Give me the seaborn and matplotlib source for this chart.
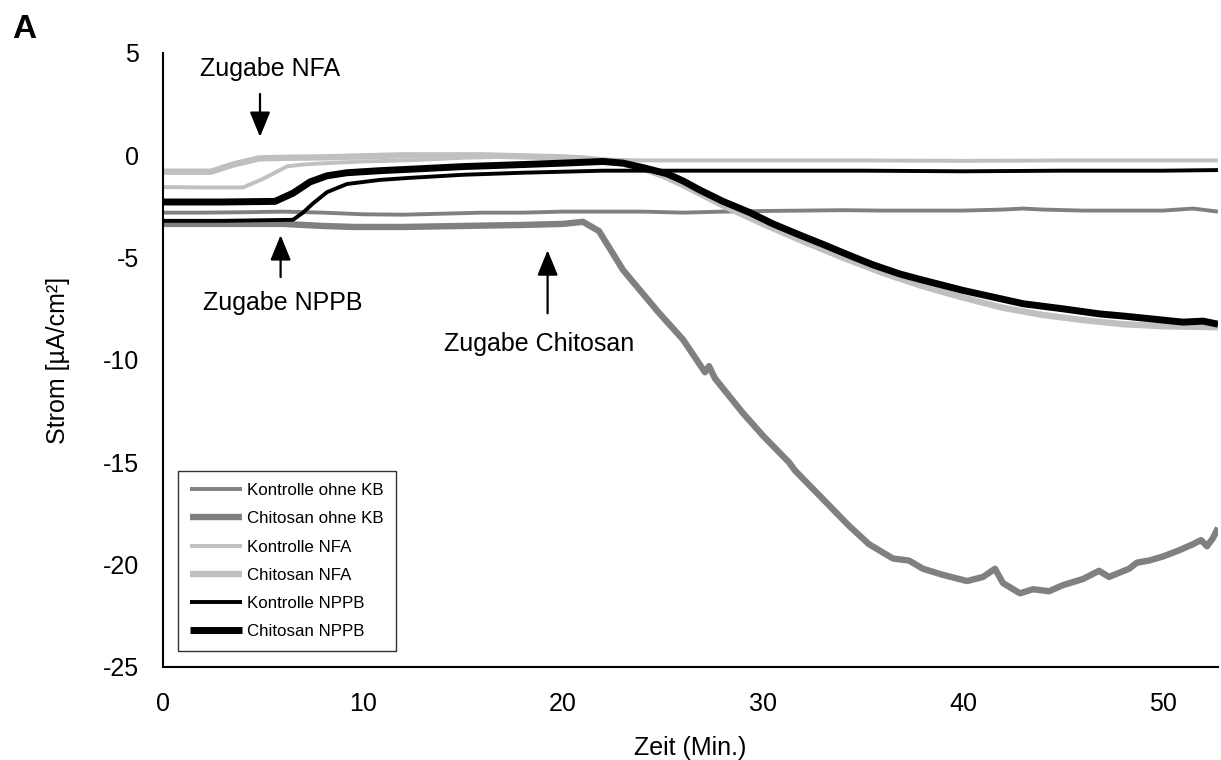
import matplotlib
matplotlib.use("Agg")
import matplotlib.pyplot as plt
import seaborn as sns
import pandas as pd

# ---------------- data ----------------
t_kontrolle_ohne = [0, 2, 4, 6, 8, 10, 12, 14, 16, 18, 20, 22, 24, 26, 28, 30, 32, 34, 36, 38, 40, 42, 43, 44, 46, 48, 50, 51.5, 52.75]
v_kontrolle_ohne = [-2.8, -2.8, -2.78, -2.75, -2.8, -2.88, -2.9, -2.85, -2.8, -2.8, -2.75, -2.75, -2.75, -2.8, -2.75, -2.72, -2.7, -2.68, -2.7, -2.7, -2.7, -2.65, -2.6, -2.65, -2.7, -2.7, -2.7, -2.6, -2.75]

t_chitosan_ohne = [0, 3, 6, 8, 9.5, 12, 15, 18, 20, 21, 21.8, 23, 24.8, 26, 27.1, 27.3, 27.6, 29, 30, 31.3, 31.6, 32.7, 34.3, 35.3, 36.5, 37.3, 38, 39, 40.2, 41, 41.6, 42, 42.85, 43.5, 44.3, 45, 46, 46.8, 47.3, 48.3, 48.7, 49.3, 50, 50.8, 51.5, 51.9, 52.2, 52.5, 52.75]
v_chitosan_ohne = [-3.35, -3.35, -3.35, -3.45, -3.5, -3.5, -3.45, -3.4, -3.35, -3.25, -3.7, -5.6, -7.7, -9.0, -10.6, -10.3, -10.9, -12.6, -13.7, -15.0, -15.4, -16.5, -18.1, -19.0, -19.7, -19.8, -20.2, -20.5, -20.8, -20.6, -20.2, -20.9, -21.4, -21.2, -21.3, -21.0, -20.7, -20.3, -20.6, -20.2, -19.9, -19.8, -19.6, -19.3, -19.0, -18.8, -19.1, -18.7, -18.2]

t_kontrolle_nfa = [0, 2, 4, 5, 6.2, 7, 8.2, 10, 12.35, 15, 18, 20, 22, 24, 26, 30, 35, 40, 45, 50, 52.75]
v_kontrolle_nfa = [-1.55, -1.57, -1.57, -1.15, -0.54, -0.45, -0.38, -0.3, -0.24, -0.12, -0.05, -0.1, -0.2, -0.25, -0.25, -0.25, -0.25, -0.27, -0.25, -0.25, -0.25]

t_chitosan_nfa = [0, 2.4, 3.5, 4.8, 6, 8, 10, 12, 14, 16, 18, 20, 21, 22, 23, 24, 25, 26, 27, 28, 30, 32, 34, 36, 38, 40, 42, 44, 46, 48, 50, 52.75]
v_chitosan_nfa = [-0.8, -0.8, -0.45, -0.15, -0.12, -0.1, -0.05, 0.0, 0.0, 0.0, -0.05, -0.1, -0.15, -0.25, -0.4, -0.65, -1.0, -1.45, -1.95, -2.45, -3.35, -4.2, -5.0, -5.75, -6.4, -6.95, -7.45, -7.8, -8.05, -8.25, -8.35, -8.4]

t_kontrolle_nppb = [0, 3, 6.5, 7.0, 7.5, 8.2, 9.2, 10.85, 12.35, 15, 18, 20, 22, 25, 30, 35, 40, 45, 50, 52.75]
v_kontrolle_nppb = [-3.2, -3.2, -3.15, -2.8, -2.35, -1.8, -1.4, -1.2, -1.1, -0.95, -0.85, -0.8, -0.75, -0.75, -0.75, -0.75, -0.78, -0.75, -0.75, -0.72]

t_chitosan_nppb = [0, 3, 5.6, 6.5, 7.35, 8.2, 9.2, 10.85, 12.35, 15, 18, 20, 22, 23, 24, 25.2, 26, 26.85, 28, 29.35, 30.5, 31.85, 33, 34.35, 35.5, 36.85, 38, 40, 41.85, 43, 45, 46.85, 48, 50, 51, 52, 52.75]
v_chitosan_nppb = [-2.28, -2.28, -2.25, -1.85, -1.3, -1.0, -0.85, -0.75, -0.68, -0.55, -0.45, -0.38, -0.3, -0.38, -0.6, -0.9, -1.25, -1.7, -2.25, -2.8, -3.35, -3.9, -4.35, -4.9, -5.35, -5.8, -6.1, -6.6, -7.0, -7.25, -7.5, -7.75, -7.85, -8.05, -8.15, -8.1, -8.25]

series_names = ["Kontrolle ohne KB", "Chitosan ohne KB", "Kontrolle NFA",
                "Chitosan NFA", "Kontrolle NPPB", "Chitosan NPPB"]
series_t = [t_kontrolle_ohne, t_chitosan_ohne, t_kontrolle_nfa,
            t_chitosan_nfa, t_kontrolle_nppb, t_chitosan_nppb]
series_v = [v_kontrolle_ohne, v_chitosan_ohne, v_kontrolle_nfa,
            v_chitosan_nfa, v_kontrolle_nppb, v_chitosan_nppb]
series_colors = ["#808080", "#808080", "#c0c0c0", "#c0c0c0", "#000000", "#000000"]
series_widths = [2.8, 4.6, 2.8, 4.6, 2.8, 5.0]

x_ticks = [0, 5, 10, 15, 20, 25, 30, 35, 40, 45, 50]
x_ticklabels = ["0", "", "10", "", "20", "", "30", "", "40", "", "50"]
y_ticks = [5, 0, -5, -10, -15, -20, -25]

annotations = [
    # text, text pos (t, v), arrow tail (t, v), arrow tip (t, v)
    ("Zugabe NFA", (5.35, 4.2), (4.85, 3.0), (4.85, 0.9)),
    ("Zugabe NPPB", (6.0, -7.2), (5.88, -5.95), (5.88, -3.9)),
    ("Zugabe Chitosan", (18.8, -9.2), (19.23, -7.72), (19.23, -4.64)),
]

FS = 18

# ---------------- plot ----------------
sns.set_style("white")
plt.rcParams["font.family"] = ["Liberation Sans", "DejaVu Sans"]
plt.rcParams["text.color"] = "black"
plt.rcParams["axes.labelcolor"] = "black"
plt.rcParams["xtick.color"] = "black"
plt.rcParams["ytick.color"] = "black"

fig = plt.figure(figsize=(12.21, 7.6), dpi=100)
ax = fig.add_axes([163 / 1221, 1 - 667 / 760, 1055 / 1221, 614 / 760])

for name, tt, vv, c, lw in zip(series_names, series_t, series_v, series_colors, series_widths):
    df = pd.DataFrame({"t": tt, "v": vv})
    sns.lineplot(data=df, x="t", y="v", ax=ax, color=c, linewidth=lw,
                 label=name, solid_joinstyle="round", solid_capstyle="butt")

ax.set_xlim(0, 52.75)
ax.set_ylim(-25, 5)
ax.set_xticks(x_ticks)
ax.set_xticklabels(x_ticklabels)
ax.set_yticks(y_ticks)
ax.set_yticklabels([str(y) for y in y_ticks])
ax.tick_params(axis="x", direction="out", length=7.2, width=1.5, labelsize=FS, pad=11, color="black")
ax.tick_params(axis="y", direction="out", length=7, width=1.5, labelsize=FS, pad=10, color="black")
for s in ["top", "right"]:
    ax.spines[s].set_visible(False)
for s in ["left", "bottom"]:
    ax.spines[s].set_color("black")
    ax.spines[s].set_linewidth(1.5)

ax.set_xlabel("Zeit (Min.)", fontsize=FS)
ax.xaxis.set_label_coords(0.5, -0.112)
ax.set_ylabel("Strom [µA/cm²]", fontsize=FS)
ax.yaxis.set_label_coords(-0.088, 0.5)

for text, tpos, tail, tip in annotations:
    ax.annotate("", xy=tip, xytext=tail,
                arrowprops=dict(arrowstyle="-|>,head_length=1.1,head_width=0.45",
                                mutation_scale=14, color="black", lw=1.6,
                                shrinkA=0, shrinkB=0))
    ax.text(tpos[0], tpos[1], text, fontsize=FS, ha="center", va="center")

leg = ax.legend(loc="lower left", bbox_to_anchor=(0.0142, 0.026), borderaxespad=0,
                fontsize=12.2, frameon=True, fancybox=False, edgecolor="black",
                handlelength=3.1, handletextpad=0.3, labelspacing=0.78,
                borderpad=0.7)
leg.get_frame().set_linewidth(1.0)

fig.text(12 / 1221, 1 - 29 / 760, "A", fontsize=24, fontweight="bold", va="center", ha="left")

fig.savefig("out.png", dpi=100)
